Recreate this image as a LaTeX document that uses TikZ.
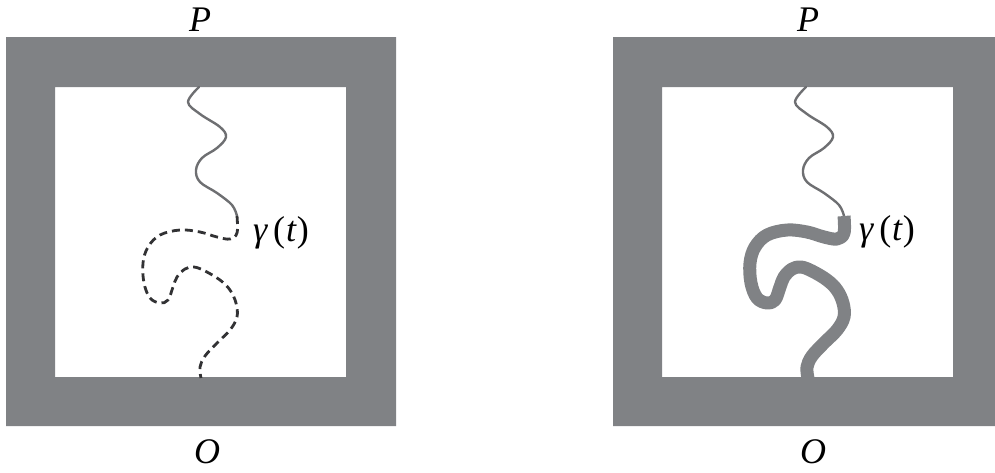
\documentclass[tikz,border=0pt]{standalone}
\usepackage{fontspec}
\setmainfont{Liberation Serif}
\begin{document}
\begin{tikzpicture}[x=1pt,y=-1pt,
  frame/.style={fill=framegray,even odd rule},
  wiggle/.style={draw=linegray,line width=2.4pt,line cap=round},
  dashpath/.style={draw=dashgray,line width=2.8pt,dash pattern=on 8pt off 5pt},
  thickpath/.style={draw=framegray,line width=13pt,line cap=butt,line join=round},
  lab/.style={font=\fontsize{36}{40}\selectfont\itshape,inner sep=0pt},
  glab/.style={font=\fontsize{36}{40}\selectfont,inner sep=0pt}]
\definecolor{framegray}{RGB}{128,130,133}
\definecolor{linegray}{RGB}{110,111,114}
\definecolor{dashgray}{RGB}{50,50,52}
\useasboundingbox (0,0) rectangle (995,472);
\clip (0,0) rectangle (995,472);
\def\solidpts{(199,87) (188,102) (200,114) (220,127) (226,137) (217,148) (202,158) (196,170) (200,182) (217,193) (232,205) (237,216)}
\def\dashpts{(237,216) (237,233) (230,239) (217,237) (200,232) (180,230) (160,235) (148,247) (143,263) (144,283) (150,298) (160,303) (168,300) (173,287) (177,277) (185,269) (194,267) (205,271) (220,280) (230,290) (236,303) (237,317) (230,330) (217,343) (205,356) (200,367) (201,378)}
% left panel
\fill[frame] (6,37) rectangle (396,426) (55,87) rectangle (346,377);
\draw[wiggle] plot[smooth,tension=0.6] coordinates {\solidpts};
\draw[dashpath] plot[smooth,tension=0.6] coordinates {\dashpts};
\node[lab] (P1) at (200,20) {P};
\node[lab] (O1) at (207,452) {O};
\node[glab] (g1) at (281,233) {{\itshape γ}\,(\kern1pt{\itshape t\/})};
% right panel
\begin{scope}[xshift=607pt]
\fill[frame] (6,37) rectangle (396,426) (55,87) rectangle (346,377);
\draw[wiggle] plot[smooth,tension=0.6] coordinates {\solidpts};
\draw[thickpath] plot[smooth,tension=0.6] coordinates {\dashpts};
\node[lab] (P2) at (201,20) {P};
\node[lab] (O2) at (206,452) {O};
\node[glab] (g2) at (280,232) {{\itshape γ}\,(\kern1pt{\itshape t\/})};
\end{scope}
\end{tikzpicture}
\end{document}
